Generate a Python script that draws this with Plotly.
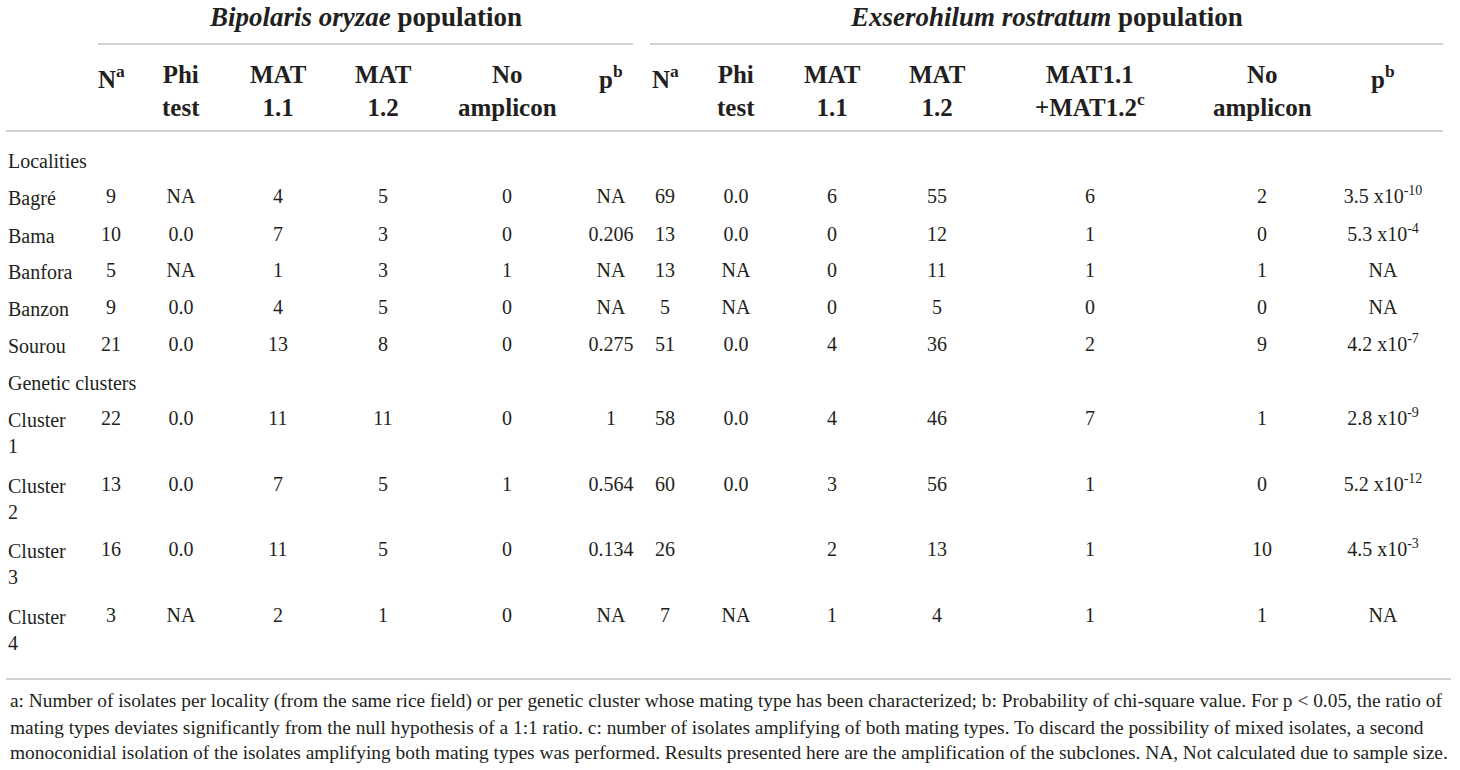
import plotly.graph_objects as go

# ---- table data ----
row_labels = ["Bagré", "Bama", "Banfora", "Banzon", "Sourou",
              "Cluster<br>1", "Cluster<br>2", "Cluster<br>3", "Cluster<br>4"]
section_labels = ["Localities", "Genetic clusters"]

# Bipolaris oryzae population
bo_n = ["9", "10", "5", "9", "21", "22", "13", "16", "3"]
bo_phi = ["NA", "0.0", "NA", "0.0", "0.0", "0.0", "0.0", "0.0", "NA"]
bo_mat11 = ["4", "7", "1", "4", "13", "11", "7", "11", "2"]
bo_mat12 = ["5", "3", "3", "5", "8", "11", "5", "5", "1"]
bo_noamp = ["0", "0", "1", "0", "0", "0", "1", "0", "0"]
bo_p = ["NA", "0.206", "NA", "NA", "0.275", "1", "0.564", "0.134", "NA"]

# Exserohilum rostratum population
er_n = ["69", "13", "13", "5", "51", "58", "60", "26", "7"]
er_phi = ["0.0", "0.0", "NA", "NA", "0.0", "0.0", "0.0", "", "NA"]
er_mat11 = ["6", "0", "0", "0", "4", "4", "3", "2", "1"]
er_mat12 = ["55", "12", "11", "5", "36", "46", "56", "13", "4"]
er_both = ["6", "1", "1", "0", "2", "7", "1", "1", "1"]
er_noamp = ["2", "0", "1", "0", "9", "1", "0", "10", "1"]
er_p = ["3.5 x10<sup>-10</sup>", "5.3 x10<sup>-4</sup>", "NA", "NA",
        "4.2 x10<sup>-7</sup>", "2.8 x10<sup>-9</sup>", "5.2 x10<sup>-12</sup>",
        "4.5 x10<sup>-3</sup>", "NA"]

headers_bo = ["N<sup>a</sup>", "Phi<br>test", "MAT<br>1.1", "MAT<br>1.2",
              "No<br>amplicon", "p<sup>b</sup>"]
headers_er = ["N<sup>a</sup>", "Phi<br>test", "MAT<br>1.1", "MAT<br>1.2",
              "MAT1.1<br>+MAT1.2<sup>c</sup>", "No<br>amplicon", "p<sup>b</sup>"]

titles = ["<b><i>Bipolaris oryzae</i> population</b>",
          "<b><i>Exserohilum rostratum</i> population</b>"]

footnote_lines = [
    "a: Number of isolates per locality (from the same rice field) or per genetic cluster whose mating type has been characterized; b: Probability of chi-square value. For p < 0.05, the ratio of",
    "mating types deviates significantly from the null hypothesis of a 1:1 ratio. c: number of isolates amplifying of both mating types. To discard the possibility of mixed isolates, a second",
    "monoconidial isolation of the isolates amplifying both mating types was performed. Results presented here are the amplification of the subclones. NA, Not calculated due to sample size.",
]

# ---- layout (pixel positions) ----
W, H = 1460, 770
FONT = "Liberation Serif, Times New Roman, serif"
INK = "#231f20"
RULE = "#d2d2d2"

col_x_bo = [111, 181, 278, 383, 507, 611]
col_x_er = [665, 736, 832, 937, 1090, 1262, 1383]
row_y = [198, 236, 272, 309, 346, 420, 486, 551, 617]
section_y = [161, 383]
label_x = 6

fig = go.Figure()

# data cells, one text trace per column
for cols, xs in ((
        [bo_n, bo_phi, bo_mat11, bo_mat12, bo_noamp, bo_p], col_x_bo),
        ([er_n, er_phi, er_mat11, er_mat12, er_both, er_noamp, er_p], col_x_er)):
    for vals, cx in zip(cols, xs):
        fig.add_trace(go.Scatter(x=[cx] * len(vals), y=row_y, text=vals,
                                 mode="text", textposition="middle center",
                                 textfont=dict(family=FONT, size=20, color=INK),
                                 hoverinfo="skip", showlegend=False))

annotations = []
# row labels (wrapped ones keep their first line on the row)
for lab, y in zip(row_labels, row_y):
    n = lab.count("<br>")
    annotations.append(dict(x=label_x, y=y + n * 13, text=lab, xanchor="left",
                            yanchor="middle", align="left", showarrow=False,
                            font=dict(family=FONT, size=20, color=INK)))
for lab, y in zip(section_labels, section_y):
    annotations.append(dict(x=label_x, y=y, text=lab, xanchor="left",
                            yanchor="middle", showarrow=False,
                            font=dict(family=FONT, size=20, color=INK)))

# column headers
for hdrs, xs in ((headers_bo, col_x_bo), (headers_er, col_x_er)):
    for h, cx in zip(hdrs, xs):
        two = "<br>" in h
        annotations.append(dict(x=cx, y=91 if two else 77, text="<b>%s</b>" % h,
                                xanchor="center", yanchor="middle", align="center",
                                showarrow=False,
                                font=dict(family=FONT, size=25, color=INK)))

# group titles
for t, cx in zip(titles, [365, 1046]):
    annotations.append(dict(x=cx, y=17, text=t, xanchor="center", yanchor="middle",
                            showarrow=False, font=dict(family=FONT, size=27, color=INK)))

# footnotes
for line, y in zip(footnote_lines, [701, 727, 752]):
    annotations.append(dict(x=8, y=y, text=line, xanchor="left", yanchor="middle",
                            showarrow=False, font=dict(family=FONT, size=19.4, color=INK)))

shapes = [
    dict(type="line", x0=98, x1=633, y0=44, y1=44),
    dict(type="line", x0=650, x1=1443, y0=44, y1=44),
    dict(type="line", x0=6, x1=1443, y0=131, y1=131),
    dict(type="line", x0=6, x1=1451, y0=679, y1=679),
]
for s in shapes:
    s.update(xref="x", yref="y", line=dict(color=RULE, width=2), layer="below")

fig.update_layout(
    width=W, height=H,
    margin=dict(l=0, r=0, t=0, b=0),
    paper_bgcolor="white", plot_bgcolor="white",
    xaxis=dict(range=[0, W], visible=False, fixedrange=True),
    yaxis=dict(range=[H, 0], visible=False, fixedrange=True),
    annotations=annotations, shapes=shapes,
)

# drop the default page margin so the figure sits at the window origin
fig.write_html("out.html",
               config={"displayModeBar": False, "staticPlot": True},
               post_script="document.body.style.margin='0';"
                           "document.body.style.overflow='hidden';")
